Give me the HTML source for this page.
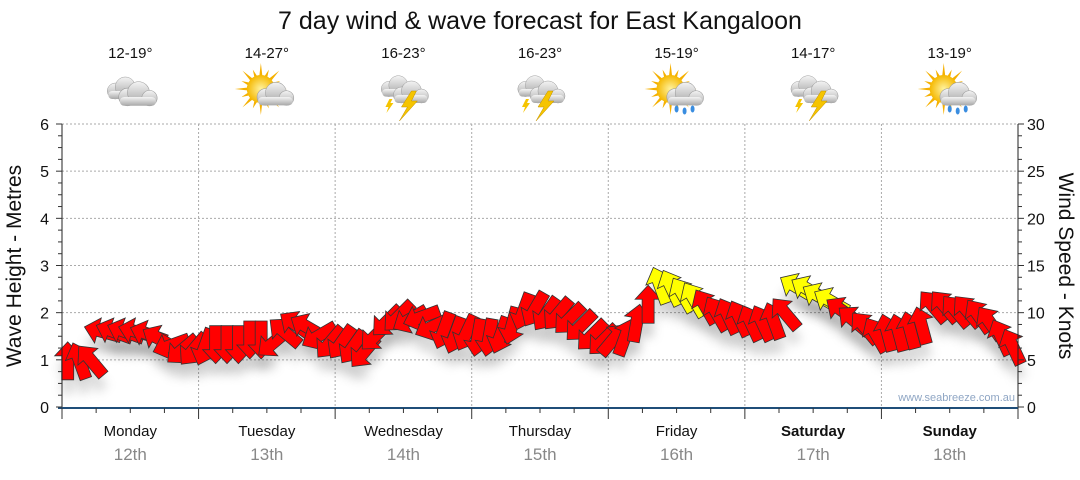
<!DOCTYPE html>
<html><head><meta charset="utf-8">
<style>
html,body{margin:0;padding:0;background:#fff;}
body{width:1080px;height:475px;overflow:hidden;font-family:"Liberation Sans",sans-serif;}
svg text{font-family:"Liberation Sans",sans-serif;}
</style></head>
<body>
<svg id="chart" width="1080" height="475" viewBox="0 0 1080 475" xmlns="http://www.w3.org/2000/svg">
<defs>
<filter id="sh" x="-50%" y="-50%" width="200%" height="200%"><feGaussianBlur stdDeviation="5"/></filter>
<radialGradient id="sun" cx="50%" cy="50%" r="50%"><stop offset="0" stop-color="#fff3a0"/><stop offset="1" stop-color="#f5b800"/></radialGradient>
<linearGradient id="cloud" x1="0" y1="0" x2="0" y2="1"><stop offset="0" stop-color="#f4f4f4"/><stop offset="1" stop-color="#a8a8a8"/></linearGradient>
</defs>
<text x="540" y="29" font-size="25" text-anchor="middle" fill="#111">7 day wind &amp; wave forecast for East Kangaloon</text>
<g id="topg"></g>
<g id="grid"></g>
<g id="shadows"></g>
<g id="arrows"></g>
<g id="axes"></g>
<text x="1015" y="401" font-size="11" text-anchor="end" fill="#8fa6c4">www.seabreeze.com.au</text>
<text transform="translate(21,266) rotate(-90)" font-size="21" text-anchor="middle" fill="#111">Wave Height - Metres</text>
<text transform="translate(1059,266) rotate(90)" font-size="21" text-anchor="middle" fill="#111">Wind Speed - Knots</text>
</svg>
<script>
const days=["Monday","Tuesday","Wednesday","Thursday","Friday","Saturday","Sunday"];
const dates=["12th","13th","14th","15th","16th","17th","18th"];
const temps=["12-19°","14-27°","16-23°","16-23°","15-19°","14-17°","13-19°"];
const icons=["cloud","sun-cloud","storm","storm","sun-rain","storm","sun-rain"];
const waveTicks=[0,1,2,3,4,5,6];
const windTicks=[0,5,10,15,20,25,30];
// 2-hourly wave height (m)
const wave=[1.0,1.0,1.0,1.6,1.6,1.6,1.6,1.55,1.45,1.3,1.2,1.2,
1.25,1.3,1.3,1.3,1.4,1.4,1.35,1.6,1.75,1.7,1.5,1.35,
1.35,1.25,1.15,1.5,1.8,1.9,1.85,1.9,1.7,1.6,1.5,1.55,
1.45,1.45,1.5,1.7,2.0,2.05,1.95,1.95,1.85,1.7,1.5,1.4,
1.45,1.5,1.8,2.2,2.6,2.55,2.4,2.3,2.15,2.0,1.95,1.9,
1.8,1.8,1.85,2.0,2.55,2.5,2.35,2.25,2.05,1.85,1.7,1.55,
1.6,1.6,1.65,1.75,2.15,2.15,2.05,2.05,1.95,1.8,1.5,1.3];
// wind direction arrow points to (deg, 0=up, clockwise)
const dir=[0,340,320,285,290,290,285,290,300,250,230,220,
200,180,180,180,180,180,230,310,305,300,240,220,
215,215,220,225,225,225,240,250,245,200,200,205,
190,190,200,195,200,210,215,220,225,225,225,225,
40,20,10,0,340,335,330,330,330,330,335,335,
335,335,340,320,300,300,300,300,305,310,320,330,
345,345,345,345,320,320,320,320,325,325,335,335];
// wind speed (knots)
const wind=[8,8,9,10,10,10,10,10,9,9,8,8,
8,8,8,8,9,9,9,10,11,11,10,9,
9,9,9,10,11,12,12,12,11,10,10,10,
10,10,10,11,12,12,12,12,12,11,11,10,
10,11,12,13,16,16,16,15,14,13,13,13,
12,12,13,14,16,16,15,15,14,13,12,12,
11,11,11,12,13,13,13,13,12,12,11,10];

const NS="http://www.w3.org/2000/svg";
const X0=62,X1=1018,Y0=407,Y1=124;
const N=wave.length;
function xs(i){return X0+(i+0.5)*(X1-X0)/N;}
function yWave(v){return Y0-(v/6)*(Y0-Y1);}
function yWind(v){return Y0-(v/30)*(Y0-Y1);}
function dayX(d){return X0+d*(X1-X0)/7;}
function mk(tag,attrs,parent){const e=document.createElementNS(NS,tag);for(const k in attrs)e.setAttribute(k,attrs[k]);parent.appendChild(e);return e;}
function cloud(g,dx,dy,s){
  const c=mk('g',{transform:'translate('+dx+','+dy+') scale('+s+')'},g);
  mk('circle',{cx:-8,cy:0,r:8,fill:'url(#cloud)',stroke:'#999','stroke-width':0.5},c);
  mk('circle',{cx:2,cy:-4,r:10,fill:'url(#cloud)',stroke:'#999','stroke-width':0.5},c);
  mk('circle',{cx:12,cy:1,r:7,fill:'url(#cloud)',stroke:'#999','stroke-width':0.5},c);
  mk('rect',{x:-15,y:0,width:33,height:8,rx:4,fill:'url(#cloud)'},c);
}

const grid=document.getElementById('grid'),axes=document.getElementById('axes'),topG=document.getElementById('topg');
waveTicks.forEach(v=>{if(v>0){const l=mk('line',{x1:X0,x2:X1,y1:yWave(v),y2:yWave(v),stroke:'#aaa','stroke-dasharray':'2,2'},grid);

}});
for(let d=1;d<7;d++){const l=mk('line',{x1:dayX(d),x2:dayX(d),y1:Y1,y2:Y0,stroke:'#aaa','stroke-dasharray':'2,2'},grid);

}
mk('line',{x1:X0,x2:X0,y1:Y1,y2:Y0+1,stroke:'#222'},axes);
mk('line',{x1:X1,x2:X1,y1:Y1,y2:Y0+1,stroke:'#222'},axes);
mk('line',{x1:X0-4,x2:X1,y1:Y0+1,y2:Y0+1,stroke:'#1f4e79','stroke-width':2},axes);
for(let k=0;k<=24;k++){const y=Y0-k*(Y0-Y1)/24;mk('line',{x1:X0-(k%4?4:6),x2:X0,y1:y,y2:y,stroke:'#333'},axes);
mk('line',{x1:X1,x2:X1+(k%4?4:6),y1:y,y2:y,stroke:'#333'},axes);}
waveTicks.forEach(v=>{const t=mk('text',{x:49,y:yWave(v)+6,'font-size':16,'text-anchor':'end',fill:'#111'},axes);t.textContent=v;

});
windTicks.forEach(v=>{const t=mk('text',{x:1027,y:yWind(v)+6,'font-size':16,fill:'#111'},axes);t.textContent=v;

});
for(let k=0;k<=28;k++){const x=X0+k*(X1-X0)/28;mk('line',{x1:x,x2:x,y1:Y0+1,y2:Y0+(k%4?6:12),stroke:'#333'},axes);}
days.forEach((d,i)=>{const cx=dayX(i)+(X1-X0)/14;
const t=mk('text',{x:cx,y:436,'font-size':15,'text-anchor':'middle',fill:'#111','font-weight':i>=5?'bold':'normal'},axes);t.textContent=d;


const t2=mk('text',{x:cx,y:460,'font-size':17,'text-anchor':'middle',fill:'#888'},axes);t2.textContent=dates[i];


const t3=mk('text',{x:cx,y:58,'font-size':15,'text-anchor':'middle',fill:'#111'},topG);t3.textContent=temps[i];


const g=mk('g',{transform:'translate('+cx+',93)'},topG);


const ic=icons[i];
if(ic.startsWith('sun')){for(let r=0;r<16;r++){const a=r*22.5*Math.PI/180;mk('polygon',{points:(-6+Math.cos(a-0.12)*13)+','+(-4+Math.sin(a-0.12)*13)+' '+(-6+Math.cos(a)*(r%2?21:26))+','+(-4+Math.sin(a)*(r%2?21:26))+' '+(-6+Math.cos(a+0.12)*13)+','+(-4+Math.sin(a+0.12)*13),fill:'#f5b000'},g);}
mk('circle',{cx:-6,cy:-4,r:14,fill:'url(#sun)'},g);
cloud(g,7,4,1.05);}
if(ic==='cloud'){cloud(g,-7,-2,1.0);cloud(g,6,4,1.1);}
if(ic==='storm'){cloud(g,-7,-4,0.95);cloud(g,6,2,1.0);
mk('polygon',{points:'8,-2 -2,14 4,14 -4,28 14,8 8,8 13,-2',fill:'#f5c400',stroke:'#c09000','stroke-width':0.5},g);
mk('polygon',{points:'-14,6 -18,14 -15,14 -17,20 -10,10 -13,10 -11,6',fill:'#f5c400'},g);}
if(ic==='sun-rain'){[[0,16],[8,18],[16,16]].forEach(p=>mk('ellipse',{cx:p[0],cy:p[1],rx:2,ry:3.5,fill:'#3a8de0'},g));}
});
const sh=document.getElementById('shadows'),ar=document.getElementById('arrows');
const shape='-6,20 6,20 6,-4 13,-4 0,-18 -13,-4 -6,-4';
wave.forEach((v,i)=>{const x=xs(i),y=yWave(v);
const s=mk('polygon',{points:shape,transform:'translate('+x+','+(y+14)+') rotate('+dir[i]+')',fill:'#000','fill-opacity':0.14,filter:'url(#sh)'},sh);


const p=mk('polygon',{points:shape,transform:'translate('+x+','+y+') rotate('+dir[i]+')',fill:wind[i]>=15?'#ffff00':'#ff0000',stroke:'#333','stroke-width':0.8},ar);


});
</script>
</body></html>
